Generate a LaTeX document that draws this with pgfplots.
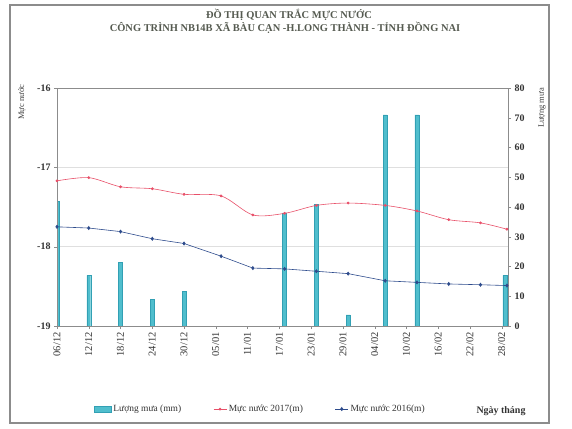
\documentclass[border=0pt]{standalone}
\usepackage{pgfplots}
\pgfplotsset{compat=1.18}
\usepackage{fontspec}
\setmainfont{Liberation Serif}
\definecolor{rain}{RGB}{80,190,205}
\definecolor{rainedge}{RGB}{50,160,180}
\definecolor{red17}{RGB}{232,80,105}
\definecolor{blue16}{RGB}{45,75,140}
\definecolor{axgray}{RGB}{140,140,140}
\definecolor{titlec}{RGB}{85,90,80}
\begin{document}
\begin{tikzpicture}[x=1bp,y=1bp]
\path[use as bounding box] (0,0) rectangle (572,428);
\draw[axgray, line width=1.2pt] (10,5) rectangle (549,423);
\node[font=\bfseries\fontsize{10.5}{11}\selectfont, text=titlec] at (289,413) {ĐỒ THỊ QUAN TRẮC MỰC NƯỚC};
\node[font=\bfseries\fontsize{10.5}{11}\selectfont, text=titlec] at (285,400) {CÔNG TRÌNH NB14B XÃ BÀU CẠN -H.LONG THÀNH - TỈNH ĐỒNG NAI};
\node[rotate=90, font=\fontsize{8.5}{9}\selectfont, text=black!75] at (22,326) {Mực nước};
\node[rotate=90, font=\fontsize{8.5}{9}\selectfont, text=black!75] at (542,320) {Lượng mưa};
\node[font=\bfseries\fontsize{10}{11}\selectfont, text=black!80] at (501,17) {Ngày tháng};
% rain bars (right axis)
\begin{axis}[
  at={(57bp,102bp)}, anchor=south west, scale only axis,
  width=451bp, height=238bp,
  xmin=0, xmax=85.2,
  ymin=0, ymax=80,
  axis x line=none,
  axis y line*=right,
  axis line style={axgray},
  ytick={0,10,...,80},
  tick align=outside,
  major tick length=3bp,
  tick style={axgray},
  /pgf/number format/assume math mode=true,
  yticklabel style={font=\bfseries\fontsize{10}{11}\selectfont, text=black!80},
  extra y ticks={26.6667,53.3333},
  extra y tick labels={},
  extra y tick style={grid=major, major tick length=0pt},
  grid style={gray!25, line width=0.5pt},
]
\addplot[ybar, bar width=0.75, fill=rain, draw=rainedge, line width=0.3pt] coordinates {
(0,42) (6,17) (12,21.5) (18,9) (24,11.7) (43,38) (49,41) (55,3.7) (62,71) (68,71) (84.6,17)
};
\end{axis}
% water level lines (left axis)
\begin{axis}[
  at={(57bp,102bp)}, anchor=south west, scale only axis,
  width=451bp, height=238bp,
  xmin=0, xmax=85.2,
  ymin=-19, ymax=-16,
  ytick={-19,-18,-17,-16},
  ytick pos=left,
  xtick={0,6,...,84},
  xticklabels={06/12,12/12,18/12,24/12,30/12,05/01,11/01,17/01,23/01,29/01,04/02,10/02,16/02,22/02,28/02},
  xtick pos=bottom,
  axis line style={axgray},
  tick align=outside,
  major tick length=3bp,
  tick style={axgray},
  /pgf/number format/assume math mode=true,
  yticklabel style={font=\bfseries\fontsize{10}{11}\selectfont, text=black!80},
  xticklabel style={rotate=90, anchor=east, font=\fontsize{10.5}{11}\selectfont, text=black!80},
  legend columns=3,
  legend style={at={(axis description cs:0.075,-0.349)}, anchor=west, draw=none, fill=none,
    font=\fontsize{9.5}{10}\selectfont, text=black!80,
    /tikz/every even column/.append style={column sep=30bp}},
  legend image code/.code={\draw[#1] (0bp,0bp) -- (13bp,0bp); \draw[#1, mark repeat=1] plot coordinates {(6.5bp,0bp)};},
]
\addlegendimage{area legend, fill=rain, draw=rainedge}
\addlegendentry{Lượng mưa (mm)}
\addplot[red17, line width=0.6pt, smooth, tension=0.5, mark=*, mark size=1.1pt, mark options={fill=red17}] coordinates {
(0,-17.17) (6,-17.13) (12,-17.245) (18,-17.27) (24,-17.34) (31,-17.36) (37,-17.60) (43,-17.58)
(49,-17.48) (55,-17.45) (62,-17.48) (68,-17.55) (74,-17.66) (80,-17.70) (85,-17.78)
};
\addlegendentry{Mực nước 2017(m)}
\addplot[blue16, line width=0.6pt, mark=diamond*, mark size=1.6pt, mark options={fill=blue16}] coordinates {
(0,-17.75) (6,-17.765) (12,-17.81) (18,-17.90) (24,-17.96) (31,-18.12) (37,-18.27) (43,-18.28)
(49,-18.31) (55,-18.34) (62,-18.43) (68,-18.45) (74,-18.47) (80,-18.48) (85,-18.49)
};
\addlegendentry{Mực nước 2016(m)}
\end{axis}
\end{tikzpicture}
\end{document}
